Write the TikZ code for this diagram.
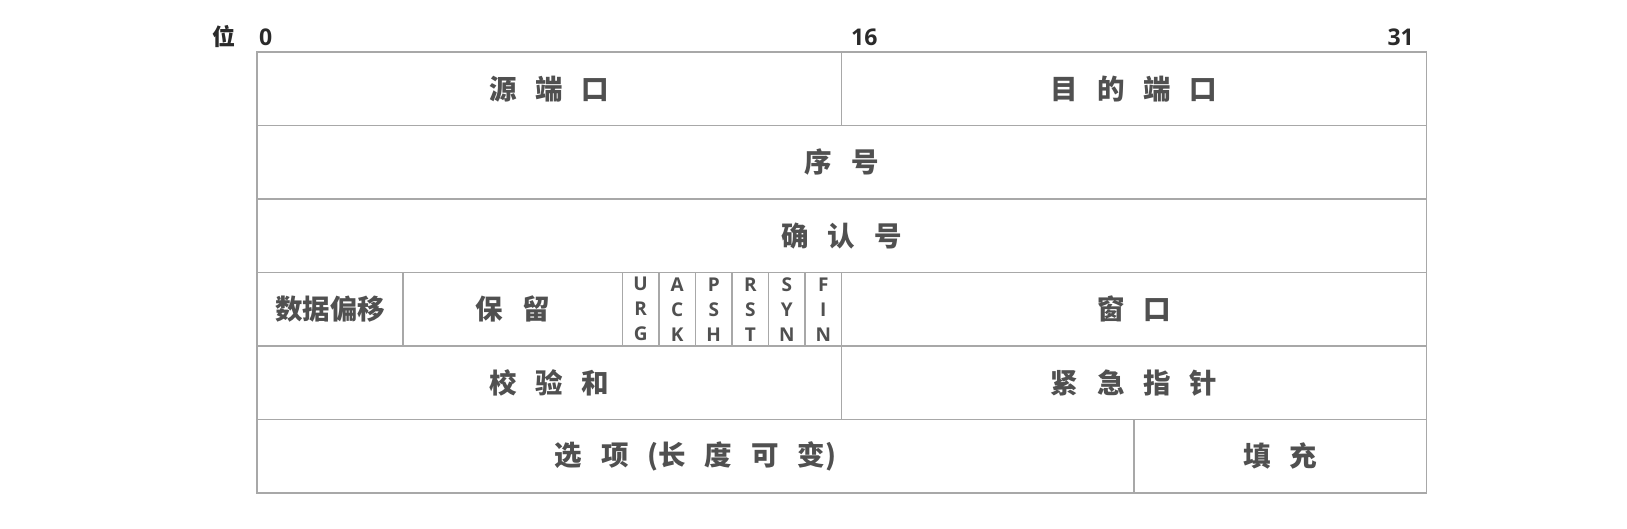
\documentclass[tikz,border=0pt]{standalone}
\usepackage{fontspec}
\setmainfont{Open Sans}
\newfontfamily\cjk[WordSpace=3.0]{Noto Sans CJK SC}
\definecolor{linegray}{HTML}{A8A8A8}
\definecolor{textgray}{HTML}{505050}
\definecolor{numgray}{HTML}{2A2A2A}
\newcommand\bitw{36.54}
\newcommand\rowh{73.5}
\newcommand\fieldcell[5]{%
  \node[cellbox, minimum width={#3*\bitw pt}] (#1)
    at ({257+(#2+#3/2)*\bitw},{52+(#4+0.5)*\rowh}) {#5};}
\tikzset{
  cellbox/.style={draw=linegray, line width=1.5pt, minimum height={\rowh pt},
    inner sep=0pt, outer sep=0pt, text=textgray,
    font=\cjk\bfseries\fontsize{27.5}{30}\selectfont},
  flagbox/.style={cellbox, align=center,
    font=\bfseries\fontsize{19}{25}\selectfont},
  numlabel/.style={inner sep=0pt, text=numgray, font=\bfseries\fontsize{23}{24}\selectfont}
}
\begin{document}
\begin{tikzpicture}[x=1pt,y=-1pt]
\path[use as bounding box, fill=white] (0,0) rectangle (1627,529);
% header labels
\node[numlabel, font=\cjk\bfseries\fontsize{23}{24}\selectfont] (wei) at (224,37) {位};
\node[numlabel, anchor=base west] (b0) at (259,46) {0};
\node[numlabel, anchor=base west] (b16) at (851,46) {16};
\node[numlabel, anchor=base east] (b31) at (1414,46) {31};
% row 0
\fieldcell{src}{0}{16}{0}{源 端 口}
\fieldcell{dst}{16}{16}{0}{目 的 端 口}
% row 1
\fieldcell{seq}{0}{32}{1}{序 号}
% row 2
\fieldcell{ackn}{0}{32}{2}{确 认 号}
% row 3
\fieldcell{off}{0}{4}{3}{数据偏移}
\fieldcell{res}{4}{6}{3}{保 留}
\node[flagbox, minimum width={\bitw pt}] (furg) at ({257+10.5*\bitw},{52+3.5*\rowh}) {U\\R\\G};
\node[flagbox, minimum width={\bitw pt}] (fack) at ({257+11.5*\bitw},{52+3.5*\rowh}) {A\\C\\K};
\node[flagbox, minimum width={\bitw pt}] (fpsh) at ({257+12.5*\bitw},{52+3.5*\rowh}) {P\\S\\H};
\node[flagbox, minimum width={\bitw pt}] (frst) at ({257+13.5*\bitw},{52+3.5*\rowh}) {R\\S\\T};
\node[flagbox, minimum width={\bitw pt}] (fsyn) at ({257+14.5*\bitw},{52+3.5*\rowh}) {S\\Y\\N};
\node[flagbox, minimum width={\bitw pt}] (ffin) at ({257+15.5*\bitw},{52+3.5*\rowh}) {F\\I\\N};
\fieldcell{win}{16}{16}{3}{窗 口}
% row 4
\fieldcell{chk}{0}{16}{4}{校 验 和}
\fieldcell{urp}{16}{16}{4}{紧 急 指 针}
% row 5
\fieldcell{opt}{0}{24}{5}{选 项 (长 度 可 变)}
\fieldcell{pad}{24}{8}{5}{填 充}
\end{tikzpicture}
\end{document}
